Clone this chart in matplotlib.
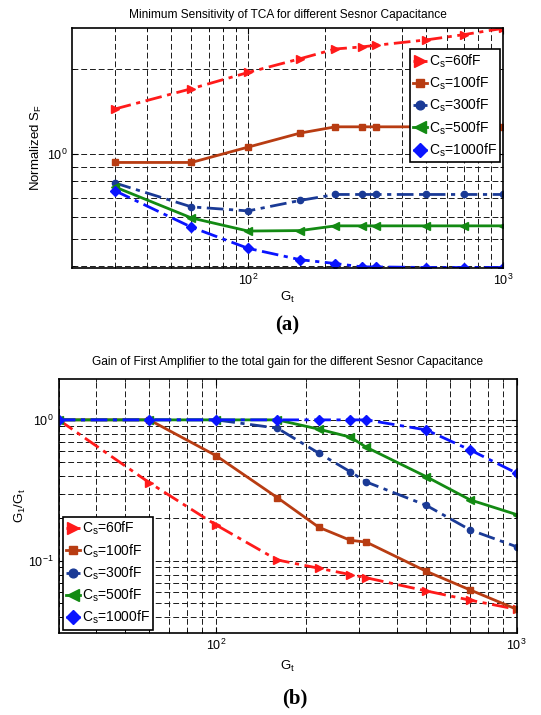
import matplotlib
matplotlib.use("Agg")
import matplotlib.pyplot as plt
from matplotlib.ticker import LogLocator, NullFormatter

plt.rcParams["font.family"] = ["Liberation Sans", "DejaVu Sans"]
plt.rcParams["mathtext.fontset"] = "custom"
plt.rcParams["mathtext.rm"] = "Liberation Sans"
plt.rcParams["mathtext.it"] = "Liberation Sans:italic"

# gains (x axis) shared by both panels
gt = [30, 60, 100, 160, 220, 280, 316, 500, 700, 1000]
labels = ["C$_\\mathrm{s}$=60fF", "C$_\\mathrm{s}$=100fF", "C$_\\mathrm{s}$=300fF",
          "C$_\\mathrm{s}$=500fF", "C$_\\mathrm{s}$=1000fF"]

# (a) normalized sensitivity
sf_60 = [1.44, 1.70, 1.94, 2.17, 2.35, 2.39, 2.42, 2.53, 2.64, 2.78]
sf_100 = [0.932, 0.932, 1.056, 1.184, 1.246, 1.246, 1.246, 1.246, 1.246, 1.246]
sf_300 = [0.789, 0.649, 0.628, 0.684, 0.718, 0.718, 0.718, 0.718, 0.718, 0.718]
sf_500 = [0.764, 0.593, 0.533, 0.535, 0.556, 0.556, 0.556, 0.556, 0.556, 0.556]
sf_1000 = [0.741, 0.550, 0.463, 0.422, 0.409, 0.398, 0.398, 0.396, 0.396, 0.396]

# (b) G1/Gt
g_60 = [1.0, 0.359, 0.180, 0.1016, 0.0887, 0.080, 0.076, 0.0613, 0.0527, 0.0454]
g_100 = [1.0, 1.0, 0.558, 0.281, 0.173, 0.140, 0.136, 0.0845, 0.0623, 0.0454]
g_300 = [1.0, 1.0, 1.0, 0.873, 0.580, 0.428, 0.363, 0.248, 0.166, 0.126]
g_500 = [1.0, 1.0, 1.0, 1.0, 0.859, 0.754, 0.640, 0.396, 0.271, 0.213]
g_1000 = [1.0, 1.0, 1.0, 1.0, 1.0, 1.0, 1.0, 0.849, 0.612, 0.419]

styles = [
    dict(color="#ff1a1a", ls=(0, (6, 2, 1.5, 2)), marker=">", ms=6),
    dict(color="#b83c12", ls="-", marker="s", ms=4.5),
    dict(color="#1a3a96", ls=(0, (6, 2, 1.5, 2)), marker="o", ms=4.5),
    dict(color="#138a13", ls="-", marker="<", ms=6),
    dict(color="#0a14ff", ls=(0, (6, 2, 1.5, 2)), marker="D", ms=5),
]


def style_axes(ax):
    ax.set_xscale("log")
    ax.set_yscale("log")
    ax.xaxis.set_minor_locator(LogLocator(base=10, subs=range(2, 10)))
    ax.yaxis.set_minor_locator(LogLocator(base=10, subs=range(2, 10)))
    ax.xaxis.set_minor_formatter(NullFormatter())
    ax.yaxis.set_minor_formatter(NullFormatter())
    ax.grid(True, which="both", color="0.1", ls=(0, (6, 3)), lw=0.7)
    ax.tick_params(which="both", direction="in", top=True, right=True, labelsize=9)
    ax.tick_params(which="major", length=4)
    ax.tick_params(which="minor", length=2)
    for s in ax.spines.values():
        s.set_linewidth(1.2)


def draw(ax, series):
    for ys, st, lab in zip(series, styles, labels):
        ax.plot(gt, ys, color=st["color"], ls=st["ls"], lw=2, marker=st["marker"],
                ms=st["ms"], mfc=st["color"], mec=st["color"], label=lab)


fig = plt.figure(figsize=(5.41, 7.15), dpi=100)

ax1 = fig.add_axes([0.133, 0.625, 0.797, 0.336])
draw(ax1, [sf_60, sf_100, sf_300, sf_500, sf_1000])
style_axes(ax1)
ax1.set_xlim(20.4, 1000)
ax1.set_ylim(0.394, 2.79)
ax1.set_title("Minimum Sensitivity of TCA for different Sesnor Capacitance", fontsize=8.6, pad=7)
ax1.set_xlabel("G$_\\mathrm{t}$", fontsize=9.5, labelpad=1)
ax1.set_ylabel("Normalized S$_\\mathrm{F}$", fontsize=9.5, labelpad=2)
leg1 = ax1.legend(loc="upper right", bbox_to_anchor=(0.993, 0.9125), borderaxespad=0,
                  fontsize=10, fancybox=False, framealpha=1, edgecolor="black",
                  handlelength=1.0, handletextpad=0.1, labelspacing=0.35,
                  borderpad=0.25, markerscale=1.4)
leg1.get_frame().set_linewidth(1.2)

ax2 = fig.add_axes([0.1085, 0.1143, 0.8466, 0.3557])
draw(ax2, [g_60, g_100, g_300, g_500, g_1000])
style_axes(ax2)
ax2.set_xlim(30, 1000)
ax2.set_ylim(0.0307, 1.95)
ax2.set_title("Gain of First Amplifier to the total gain for the different Sesnor Capacitance",
              fontsize=8.6, pad=10)
ax2.set_xlabel("G$_\\mathrm{t}$", fontsize=9.5, labelpad=4)
ax2.set_ylabel("G$_\\mathrm{1}$/G$_\\mathrm{t}$", fontsize=9.5, labelpad=0)
leg2 = ax2.legend(loc="lower left", bbox_to_anchor=(0.0094, 0.013), borderaxespad=0,
                  fontsize=10, fancybox=False, framealpha=1, edgecolor="black",
                  handlelength=1.0, handletextpad=0.1, labelspacing=0.35,
                  borderpad=0.25, markerscale=1.4)
leg2.get_frame().set_linewidth(1.2)

fig.text(0.531, 1 - 325 / 715, "(a)", ha="center", va="center", fontsize=15,
         fontweight="bold", family="Liberation Serif")
fig.text(0.545, 1 - 698 / 715, "(b)", ha="center", va="center", fontsize=15,
         fontweight="bold", family="Liberation Serif")

fig.savefig("out.png", dpi=100)
